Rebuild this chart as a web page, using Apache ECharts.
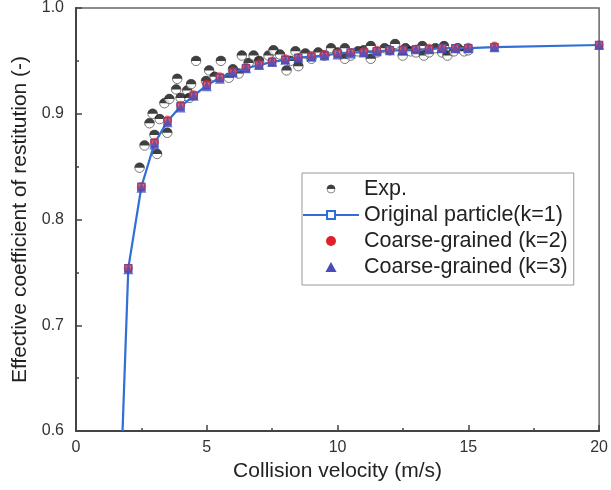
<!DOCTYPE html>
<html>
<head>
<meta charset="utf-8">
<script src="https://cdn.jsdelivr.net/npm/echarts@6/dist/echarts.min.js"></script>
<style>
  html, body { margin: 0; padding: 0; background: #fff; }
  #chart { width: 611px; height: 490px; }
</style>
</head>
<body>
<div id="chart"></div>
<script>
  // experimental points
  var expX = [2.43, 2.62, 2.81, 2.93, 3.0, 3.1, 3.2, 3.38, 3.49, 3.57, 3.83, 3.87, 4.0, 4.25, 4.33, 4.4,
    4.59, 4.97, 5.09, 5.3, 5.54, 5.84, 6.0, 6.22, 6.34, 6.6, 6.79, 7.0, 7.36, 7.55, 7.8, 8.05, 8.2,
    8.39, 8.5, 8.77, 9.0, 9.26, 9.5, 9.75, 10.0, 10.28, 10.28, 10.5, 10.78, 11.0, 11.27, 11.27, 11.5,
    11.8, 12.0, 12.2, 12.49, 12.6, 12.8, 13.0, 13.24, 13.3, 13.5, 13.74, 14.0, 14.07, 14.2, 14.45,
    14.6, 14.84, 15.0]
  var expY = [0.849, 0.870, 0.891, 0.900, 0.880, 0.862, 0.895, 0.910, 0.882, 0.914, 0.923, 0.933, 0.915, 0.922, 0.915, 0.928,
    0.950, 0.931, 0.941, 0.935, 0.950, 0.934, 0.942, 0.938, 0.955, 0.948, 0.955, 0.950, 0.955, 0.960, 0.956, 0.941, 0.950,
    0.959, 0.945, 0.957, 0.952, 0.958, 0.955, 0.962, 0.958, 0.962, 0.952, 0.955, 0.959, 0.960, 0.964, 0.952, 0.958,
    0.962, 0.960, 0.966, 0.955, 0.962, 0.959, 0.958, 0.964, 0.955, 0.958, 0.962, 0.958, 0.964, 0.955, 0.959,
    0.962, 0.959, 0.960]

  // simulation, original particle k=1
  var simX = [1.78, 2, 2.5, 3, 3.5, 4, 4.5, 5, 5.5, 6, 6.5, 7, 7.5, 8, 8.5, 9, 9.5, 10, 10.5, 11, 11.5,
    12, 12.5, 13, 13.5, 14, 14.5, 15, 16, 20]
  var k1Y = [0.6, 0.754, 0.831, 0.872, 0.893, 0.907, 0.917, 0.927, 0.934, 0.939, 0.943, 0.946, 0.949, 0.951,
    0.953, 0.954, 0.955, 0.957, 0.958, 0.958, 0.959, 0.960, 0.960, 0.961, 0.961, 0.962, 0.962, 0.962, 0.963, 0.965]
  // coarse-grained k=2, k=3 (same velocities from 2 m/s)
  var cgX = [2, 2.5, 3, 3.5, 4, 4.5, 5, 5.5, 6, 6.5, 7, 7.5, 8, 8.5, 9, 9.5, 10, 10.5, 11, 11.5,
    12, 12.5, 13, 13.5, 14, 14.5, 15, 16, 20]
  var k2Y = [0.754, 0.831, 0.873, 0.894, 0.908, 0.918, 0.928, 0.935, 0.940, 0.944, 0.947, 0.950, 0.952,
    0.953, 0.955, 0.956, 0.957, 0.958, 0.959, 0.960, 0.960, 0.961, 0.961, 0.962, 0.962, 0.962, 0.963, 0.964, 0.965]
  var k3Y = [0.753, 0.830, 0.871, 0.892, 0.906, 0.917, 0.926, 0.933, 0.939, 0.943, 0.946, 0.949, 0.951,
    0.953, 0.954, 0.955, 0.956, 0.957, 0.958, 0.959, 0.960, 0.960, 0.961, 0.961, 0.962, 0.962, 0.962, 0.963, 0.965]

  function pairs (xs, ys) {
    return xs.map(function (x, i) { return [x, ys[i]] })
  }

  var halfDot = 'image://data:image/svg+xml;charset=utf-8,' + encodeURIComponent(
    "<svg xmlns='http://www.w3.org/2000/svg' width='24' height='24'>" +
    "<circle cx='12' cy='12' r='9.5' fill='#fff' stroke='#555' stroke-width='2'/>" +
    "<path d='M2 12 A10 10 0 0 1 22 12 Z' fill='#111'/></svg>")

  var font = 'Liberation Sans, Arial, sans-serif'
  var k1Data = pairs(simX, k1Y)
  k1Data[0] = { value: k1Data[0], symbol: 'none' }

  var chart = echarts.init(document.getElementById('chart'))
  var option = {
    animation: false,
    backgroundColor: '#fff',
    grid: {
      left: 76, right: 8, top: 7, bottom: 59,
      show: true, borderColor: '#666', borderWidth: 1.5,
    },
    legend: {
      left: 302, top: 173,
      orient: 'vertical',
      itemWidth: 56, itemHeight: 10, itemGap: 4,
      symbolKeepAspect: true,
      padding: [5, 6, 7, 0],
      borderColor: '#999', borderWidth: 1,
      textStyle: { fontFamily: font, fontSize: 21.5, color: '#222' },
      data: [
        { name: 'Exp.' },
        { name: 'Original particle(k=1)' },
        { name: 'Coarse-grained (k=2)', icon: 'circle', itemStyle: { opacity: 1 } },
        { name: 'Coarse-grained (k=3)', icon: 'path://M5 0 L10 9 L0 9 Z', itemStyle: { opacity: 1 } },
      ],
    },
    xAxis: {
      type: 'value', min: 0, max: 20, interval: 5,
      name: 'Collision velocity (m/s)', nameLocation: 'middle', nameGap: 27,
      nameTextStyle: { fontFamily: font, fontSize: 21, color: '#222' },
      axisLine: { lineStyle: { color: '#444', width: 2 } },
      axisTick: { inside: true, length: 6, lineStyle: { color: '#444', width: 1.5 } },
      minorTick: { show: true, splitNumber: 2, length: 3, lineStyle: { color: '#444', width: 1.5 } },
      axisLabel: { fontFamily: font, fontSize: 16, color: '#333', margin: 9 },
      splitLine: { show: false },
    },
    yAxis: {
      type: 'value', min: 0.6, max: 1.0, interval: 0.1,
      name: 'Effective coefficient of restitution (-)', nameLocation: 'middle', nameGap: 40,
      nameTextStyle: { fontFamily: font, fontSize: 21, color: '#222' },
      axisLine: { show: true, lineStyle: { color: '#444', width: 2 } },
      axisTick: { show: true, inside: true, length: 6, lineStyle: { color: '#444', width: 1.5 } },
      minorTick: { show: true, splitNumber: 2, length: 3, lineStyle: { color: '#444', width: 1.5 } },
      axisLabel: {
        fontFamily: font, fontSize: 16, color: '#333', margin: 12,
        formatter: function (v) { return v.toFixed(1) },
      },
      splitLine: { show: false },
    },
    series: [
      {
        name: 'Exp.',
        type: 'scatter',
        symbol: halfDot,
        symbolSize: 12,
        z: 2,
        data: pairs(expX, expY),
      },
      {
        name: 'Original particle(k=1)',
        type: 'line',
        symbol: 'rect',
        symbolSize: 7,
        showAllSymbol: true,
        color: '#2f6fd6',
        lineStyle: { color: '#2f6fd6', width: 2.2 },
        itemStyle: { color: '#fff', borderColor: '#2f6fd6', borderWidth: 1.5 },
        z: 3,
        data: k1Data,
      },
      {
        name: 'Coarse-grained (k=2)',
        type: 'scatter',
        symbol: 'circle',
        symbolSize: 9,
        itemStyle: { color: '#e0202a', opacity: 0.7 },
        z: 4,
        data: pairs(cgX, k2Y),
      },
      {
        name: 'Coarse-grained (k=3)',
        type: 'scatter',
        symbol: 'triangle',
        symbolSize: 10,
        itemStyle: { color: '#4a4ab8', opacity: 0.8 },
        z: 5,
        data: pairs(cgX, k3Y),
      },
    ],
  }
  chart.setOption(option)
</script>
</body>
</html>
